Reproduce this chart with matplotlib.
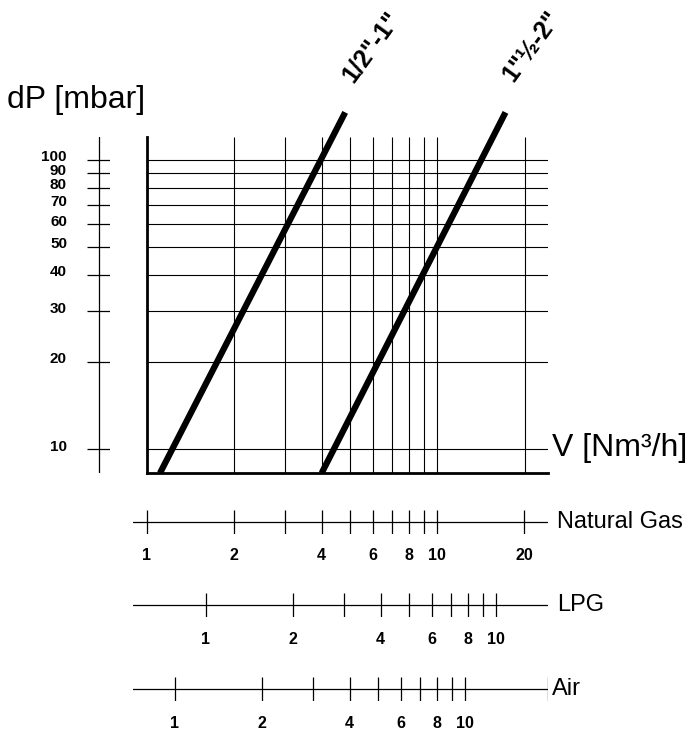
import numpy as np
import matplotlib.pyplot as plt

plt.rcParams['font.family'] = ['Liberation Sans', 'DejaVu Sans']

# pressure drop axis [mbar]
dp_ticks = [10, 20, 30, 40, 50, 60, 70, 80, 90, 100]
dp_min, dp_max = 8.26, 120

# flow axis, natural gas [Nm3/h]
v_min, v_max = 1.0, 24.1
v_grid = [2, 3, 4, 5, 6, 7, 8, 9, 10, 20]
v_scale_start = 0.895   # gas scales start a bit left of the chart

# valve curves (flow and pressure drop at both ends)
curve_names = ['1/2"-1"', '1"½-2"']
curve_v = [[1.109, 4.82], [4.0, 17.2]]
curve_dp = [[8.26, 146], [8.26, 146]]

# gas scales below the chart
gas_names = ['Natural Gas', 'LPG', 'Air']
gas_ticks = [[1, 2, 3, 4, 5, 6, 7, 8, 9, 10, 20],
             [1, 2, 3, 4, 5, 6, 7, 8, 9, 10],
             [1, 2, 3, 4, 5, 6, 7, 8, 9, 10]]
gas_labels = [[1, 2, 4, 6, 8, 10, 20],
              [1, 2, 4, 6, 8, 10],
              [1, 2, 4, 6, 8, 10]]
gas_factor = [1.0, 1.597, 1.249]   # natural gas flow / gas flow
gas_row_y = [521.7, 605, 689]      # pixel rows of the scales

W, H = 688, 736


def box(x0, y0, x1, y1):
    # pixel box (top-left origin) -> figure fraction
    return [x0 / W, 1 - y1 / H, (x1 - x0) / W, (y1 - y0) / H]


fig = plt.figure(figsize=(W / 100, H / 100), dpi=100)

#------ main chart ---------
ax = fig.add_axes(box(147, 137, 548, 473))
ax.set_xscale('log')
ax.set_yscale('log')
ax.set_xlim(v_min, v_max)
ax.set_ylim(dp_min, dp_max)
for s in ['top', 'right']:
    ax.spines[s].set_visible(False)
for s in ['left', 'bottom']:
    ax.spines[s].set_linewidth(2.0)
ax.set_xticks([])
ax.set_yticks([])
ax.minorticks_off()
ax.tick_params(which='both', length=0, labelbottom=False, labelleft=False)
ax.patch.set_alpha(0)

ax.hlines(dp_ticks, v_min, v_max, color='black', lw=0.8)
ax.vlines(v_grid, dp_min, dp_max, color='black', lw=0.8)

for name, v, dp in zip(curve_names, curve_v, curve_dp):
    ax.plot(v, dp, color='black', lw=4.5, solid_capstyle='butt', clip_on=False)
    ax.annotate(name, xy=(v[1], dp[1]), xytext=(19, 47.5), textcoords='offset points',
                rotation=54, ha='center', va='center', rotation_mode='anchor',
                fontsize=18, fontweight='bold', annotation_clip=False)

ax.annotate('V [Nm³/h]', xy=(1, 10), xycoords=('axes fraction', 'data'),
            xytext=(3, 1), textcoords='offset points', va='center', ha='left',
            fontsize=23, annotation_clip=False)

fig.text(7 / W, 1 - 108 / H, 'dP [mbar]', fontsize=23, va='baseline', ha='left')

#------ separate pressure scale on the left ---------
axl = fig.add_axes(box(87, 137, 110, 473))
axl.set_yscale('log')
axl.set_ylim(dp_min, dp_max)
axl.set_xlim(0, 1)
axl.axis('off')
axl.plot([0.5, 0.5], [dp_min, dp_max], color='black', lw=0.9)
axl.hlines(dp_ticks, 0, 1, color='black', lw=0.9)
for t in dp_ticks:
    axl.text(-0.87, t * 1.02, str(t), ha='right', va='center',
             fontsize=11, fontweight='bold')

#------ gas scales ---------
for name, ticks, labels, f, y in zip(gas_names, gas_ticks, gas_labels, gas_factor, gas_row_y):
    axg = fig.add_axes(box(133, y - 12, 548, y + 12))
    axg.set_xscale('log')
    lo, hi = v_scale_start / f, v_max / f
    axg.set_xlim(lo, hi)
    axg.set_ylim(-1, 1)
    axg.axis('off')
    axg.plot([lo, hi], [0, 0], color='black', lw=0.9)
    axg.vlines(ticks, -1, 1, color='black', lw=0.9)
    for t in labels:
        axg.text(t, -2.85, str(t), ha='center', va='center',
                 fontsize=11.5, fontweight='bold')
    if name == 'Air':
        axg.vlines([hi], -1, 1, color='black', lw=0.9)
        dx = 2.5
    else:
        dx = 6.5
    axg.annotate(name, xy=(1, 0.5), xycoords='axes fraction', xytext=(dx, 0),
                 textcoords='offset points', va='center', ha='left', fontsize=17,
                 annotation_clip=False)

fig.savefig('out.png', dpi=100)
